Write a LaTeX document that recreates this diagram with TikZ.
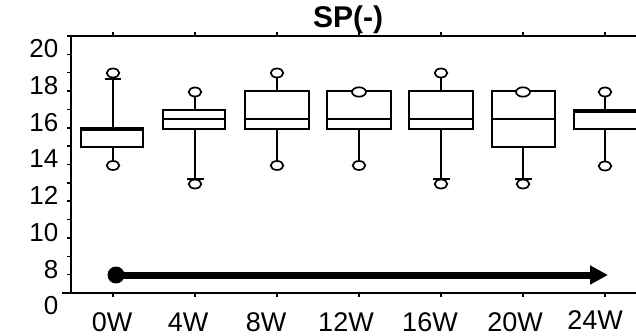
\documentclass[tikz,border=0pt]{standalone}
\usepackage{fontspec}
\setmainfont{Liberation Sans}
\usetikzlibrary{arrows.meta,shapes.geometric}
\begin{document}
\begin{tikzpicture}[x=1pt,y=-1pt,
  axisline/.style={line width=2.2pt},
  boxline/.style={line width=2.2pt,fill=white},
  wline/.style={line width=2.2pt},
  outlier/.style={line width=1.7pt,fill=white},
  ylab/.style={anchor=base east,inner sep=0pt,font=\fontsize{26}{26}\selectfont},
  xlab/.style={anchor=base,inner sep=0pt,font=\fontsize{27}{27}\selectfont},
  ttl/.style={anchor=base,inner sep=0pt,font=\fontsize{30}{30}\selectfont\bfseries}]
\useasboundingbox (0,0) rectangle (636,336);
\clip (0,0) rectangle (636,336);
\fill[white] (0,0) rectangle (636,336);
% title
\node[ttl] (title) at (348,28) {SP(-)};
% axes
\draw[axisline] (71,35) -- (71,293);
\draw[axisline] (62,293) -- (640,293);
\draw[axisline] (72,36) -- (640,36);
\foreach \k in {0,...,13} {
  \draw[line width=1.5pt] (67,{36+18.36*\k}) -- (71,{36+18.36*\k});
}
\foreach \cx in {113,195,277,359,441,523,605} {
  \draw[line width=1.5pt] (\cx,36) -- (\cx,32.5);
  \draw[line width=1.5pt] (\cx,293) -- (\cx,296.5);
}
% y labels
\foreach \lab [count=\i from 0] in {20,18,16,14,12,10,8,0} {
  \node[ylab] (yl\i) at (58.5,{57.8+36.7*\i}) {\lab};
}
% x labels
\node[xlab] (x0) at (112,331.5) {0W};
\node[xlab] (x1) at (188,331.5) {4W};
\node[xlab] (x2) at (266,331.5) {8W};
\node[xlab] (x3) at (346,331.5) {12W};
\node[xlab] (x4) at (430,331.5) {16W};
\node[xlab] (x5) at (515,331.5) {20W};
\node[xlab] (x6) at (595,329.5) {24W};
% boxes: 0W
\draw[wline] (113,128) -- (113,79);
\draw[wline] (105,79) -- (121,79);
\draw[outlier] (113,73) ellipse (6.3 and 4.5);
\draw[wline] (113,147) -- (113,161);
\draw[outlier] (113,165.5) ellipse (6.3 and 4.5);
\draw[boxline] (81,128) rectangle (143,147);
\draw[line width=2.2pt] (81,129.5) -- (143,129.5);
% 4W
\draw[wline] (195,110) -- (195,96);
\draw[outlier] (195,92) ellipse (6.3 and 4.5);
\draw[wline] (195,129) -- (195,179);
\draw[wline] (187,179) -- (204,179);
\draw[outlier] (195,184) ellipse (6.3 and 4.5);
\draw[boxline] (163,110) rectangle (225,129);
\draw[line width=2.2pt] (163,119) -- (225,119);
% 8W
\draw[wline] (277,91) -- (277,77);
\draw[outlier] (277,73) ellipse (6.3 and 4.5);
\draw[wline] (277,129) -- (277,161);
\draw[outlier] (277,165.5) ellipse (6.3 and 4.5);
\draw[boxline] (245,91) rectangle (309,129);
\draw[line width=2.2pt] (245,119) -- (309,119);
% 12W
\draw[wline] (359,129) -- (359,161);
\draw[outlier] (359,165.5) ellipse (6.3 and 4.5);
\draw[boxline] (327,91) rectangle (391,129);
\draw[line width=2.2pt] (327,119) -- (391,119);
\draw[outlier] (359,92) ellipse (7 and 4.7);
% 16W
\draw[wline] (441,91) -- (441,77);
\draw[outlier] (441,73) ellipse (6.3 and 4.5);
\draw[wline] (441,129) -- (441,179);
\draw[wline] (433,179) -- (450,179);
\draw[outlier] (441,184) ellipse (6.3 and 4.5);
\draw[boxline] (409,91) rectangle (473,129);
\draw[line width=2.2pt] (409,119) -- (473,119);
% 20W
\draw[wline] (523,147) -- (523,179);
\draw[wline] (515,179) -- (532,179);
\draw[outlier] (523,184) ellipse (6.3 and 4.5);
\draw[boxline] (492,91) rectangle (555,147);
\draw[line width=2.2pt] (492,119) -- (555,119);
\draw[outlier] (523,92) ellipse (7 and 4.7);
% 24W
\draw[wline] (605,110) -- (605,96);
\draw[outlier] (605,92) ellipse (6.3 and 4.5);
\draw[wline] (605,129) -- (605,161);
\draw[outlier] (605,166) ellipse (6.3 and 4.5);
\draw[boxline] (574,110) rectangle (640,129);
\draw[line width=2.2pt] (574,111.5) -- (640,111.5);
% arrow
\coordinate (astart) at (116,275);
\coordinate (aend) at (608,275);
\fill (astart) circle (8.5);
\draw[line width=7pt,-{Triangle[length=18pt,width=18pt]}] (astart) -- (aend);
\end{tikzpicture}
\end{document}
